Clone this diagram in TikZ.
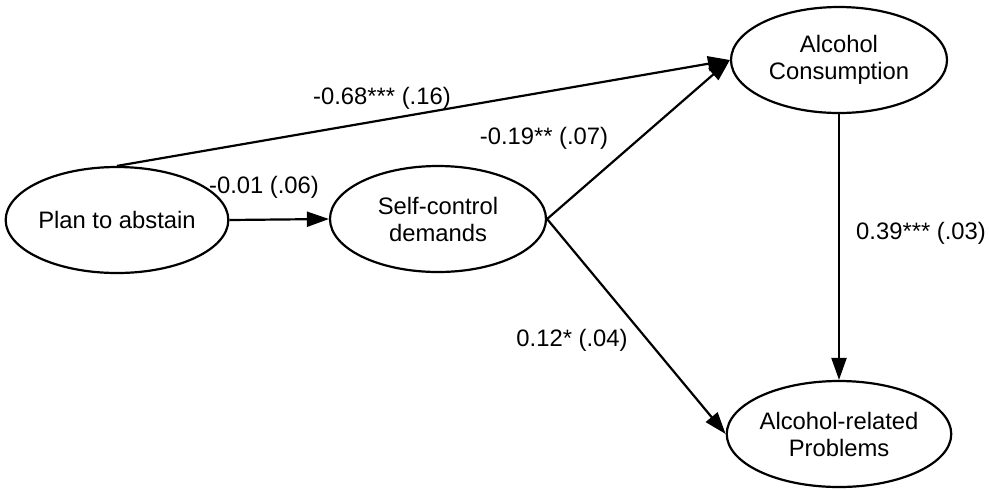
\documentclass[tikz,border=0pt]{standalone}
\usepackage{fontspec}
\setmainfont{Liberation Sans}
\usetikzlibrary{shapes.geometric,arrows.meta}
\tikzset{
    latent/.style={draw, ellipse, line width=1.1pt, minimum width=108pt, minimum height=53pt, inner sep=0pt, align=center, font=\fontsize{11.9}{13.5}\selectfont},
    effect/.style={-{Triangle[length=11pt,width=7.5pt]}, line width=1.1pt},
    coef/.style={font=\fontsize{11.9}{13.5}\selectfont}
}
\begin{document}
\begin{tikzpicture}[x=0.5pt, y=-0.5pt]
    \useasboundingbox (0,0) rectangle (989,489);
    % Variables
    \node[latent] (plan) at (117,220) {Plan to abstain};
    \node[latent] (self) at (438,219) {Self-control\\demands};
    \node[latent] (cons) at (839,60) {Alcohol\\Consumption};
    \node[latent] (prob) at (839,434) {Alcohol-related\\Problems};
    % Paths
    \draw[effect] (plan.north) -- (cons.west);
    \draw[effect] (plan.east) -- (self.west);
    \draw[effect] (self.east) -- (cons.west);
    \draw[effect] (self.east) -- (prob.west);
    \draw[effect] (cons.south) -- (prob.north);
    % Coefficients
    \node[coef] (c1) at (382,98) {-0.68*** (.16)};
    \node[coef] (c2) at (264,187) {-0.01 (.06)};
    \node[coef] (c3) at (544,138) {-0.19** (.07)};
    \node[coef] (c4) at (572,340) {0.12* (.04)};
    \node[coef] (c5) at (921,233) {0.39*** (.03)};
\end{tikzpicture}
\end{document}
